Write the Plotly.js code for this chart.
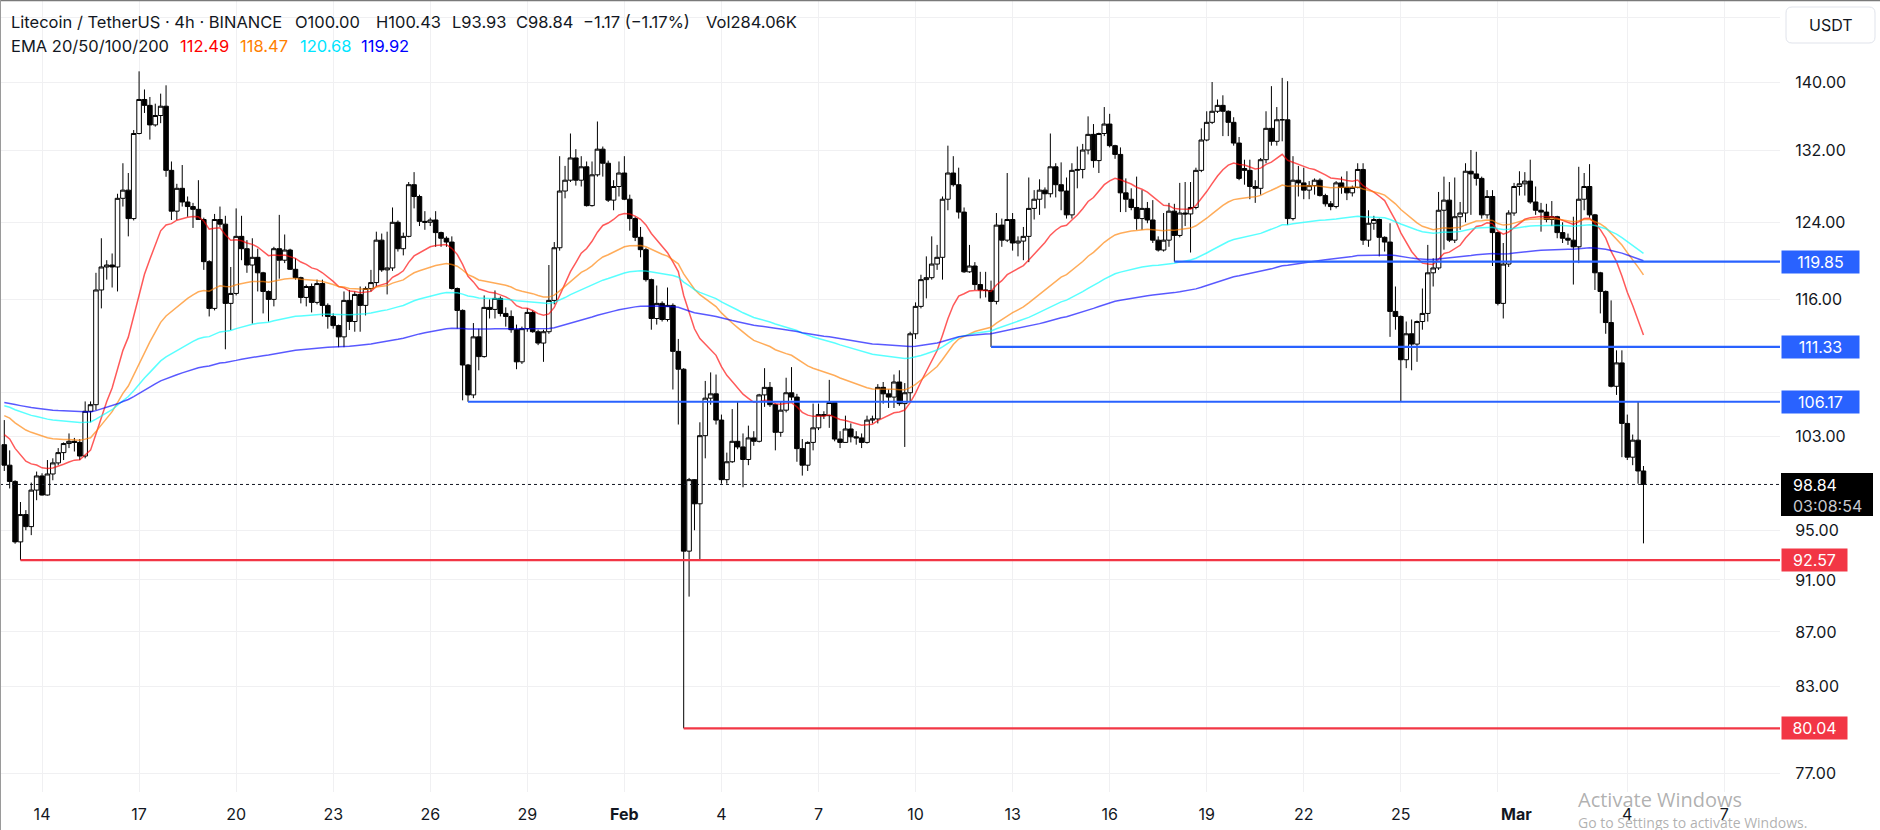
<!DOCTYPE html>
<html><head><meta charset="utf-8">
<script src="https://cdn.plot.ly/plotly-3.0.1.min.js"></script>
<style>html,body{margin:0;padding:0;background:#fff;overflow:hidden}</style>
</head><body><div id="chart" style="width:1880px;height:830px"></div>
<script>
// ---- DATA (LTC/USDT 4h, Binance) ----
const startTime = '2025-01-12T20:00:00Z';
const intervalHours = 4;
const opens = [
102.3,100.5,99.1,94.05,96.3,95.3,98.36,99.57,97.94,99.74,
100.7,101.6,102.4,102.6,102.5,101.3,105.3,105.9,116.95,119.3,
119.5,119.3,126.6,127.5,124.4,133.9,137.9,137.2,134.9,136.0,
137.1,129.7,125.2,127.7,126.2,125.7,125.4,124.3,119.85,115.1,
124.3,123.8,115.6,116.6,122.5,121.2,119.5,120.3,118.7,116.8,
116.0,121.2,120.0,121.06,119.06,118.2,116.2,117.3,115.7,117.6,
115.4,114.3,113.4,112.3,115.9,113.8,116.5,115.4,117.1,117.7,
122.1,119.0,119.2,124.0,121.2,122.5,128.1,126.8,124.1,124.0,
124.25,122.9,122.3,121.9,117.1,114.9,109.6,106.8,112.3,110.4,
115.2,115.0,116.1,114.6,114.3,113.0,109.9,113.1,114.7,112.8,
111.7,112.8,115.9,121.3,127.4,128.6,131.1,128.6,130.1,125.8,
129.2,132.1,130.5,126.4,127.9,129.4,126.5,124.4,122.4,121.1,
118.0,114.1,115.6,114.0,115.4,110.9,109.2,93.3,99.25,97.2,
103.1,106.5,106.9,104.5,99.25,100.8,102.6,102.1,101.0,102.9,
102.6,106.8,107.5,105.9,103.4,105.4,107.0,106.6,101.95,100.5,
102.5,103.8,105.0,104.9,106.1,102.8,102.5,103.7,103.0,102.9,
102.5,104.5,104.6,107.5,106.9,106.6,108.0,106.0,107.0,112.6,
115.3,118.0,118.2,119.6,120.3,126.5,129.4,128.1,125.1,118.8,
119.4,117.5,116.95,116.9,115.8,123.7,122.1,124.3,121.8,122.0,
122.5,125.5,126.5,127.5,127.1,130.1,128.1,127.4,124.8,129.7,
129.8,132.0,133.8,130.8,133.9,135.0,132.5,131.5,127.2,126.5,
125.6,124.4,125.5,124.25,122.1,121.06,122.1,125.2,122.6,125.0,
124.9,125.6,129.7,133.15,135.2,136.5,137.2,136.5,135.2,132.8,
129.9,129.7,127.9,127.7,130.9,134.5,133.0,135.5,135.5,124.4,
128.6,128.3,127.5,128.0,128.6,126.9,126.0,125.7,128.3,127.8,
127.2,127.8,129.8,122.1,123.9,124.3,122.4,121.9,114.8,114.3,
110.1,112.6,111.6,113.8,114.6,118.7,119.2,125.3,126.4,122.1,
124.6,125.0,129.6,129.3,128.8,124.8,126.8,122.9,115.6,119.6,
125.0,127.9,128.2,128.5,126.2,125.3,125.1,124.3,124.6,122.9,
122.3,122.1,121.4,126.5,127.9,124.8,118.7,116.8,113.7,107.6,
109.8,104.2,101.2,102.7,100.0];
const highs = [
104.5,101.8,99.2,97.35,96.67,99.0,99.95,99.8,100.95,101.1,
102.0,102.5,103.3,102.9,102.8,106.2,106.2,118.7,122.3,120.0,
120.7,127.1,130.5,129.4,134.3,141.3,139.1,138.2,137.4,138.6,
139.6,130.7,128.2,130.3,126.8,126.1,128.6,124.5,120.0,124.9,
125.7,124.7,119.3,125.5,124.7,122.1,122.3,121.2,118.8,116.9,
121.4,124.8,122.7,121.2,120.2,118.3,117.5,117.6,118.0,118.0,
115.6,114.6,113.5,116.8,116.95,116.8,117.3,117.3,119.0,123.0,
122.8,123.0,125.6,124.2,122.9,128.4,129.5,127.0,125.2,124.5,
125.2,123.0,122.5,122.5,117.2,115.0,109.7,113.65,113.1,116.4,
116.0,116.9,116.3,115.2,114.9,113.5,113.3,115.1,114.9,113.0,
113.0,119.5,121.9,131.3,130.2,133.9,132.1,131.3,130.7,130.7,
135.3,132.4,130.8,128.6,130.7,131.3,127.0,124.6,123.5,121.3,
118.1,117.4,115.8,117.2,115.6,112.1,109.3,99.4,99.3,104.3,
108.1,108.9,108.7,105.0,101.6,105.5,106.2,103.3,104.0,103.5,
106.9,109.3,108.0,106.0,106.2,108.4,109.4,106.9,102.8,102.6,
106.0,106.0,105.3,108.2,106.2,103.5,104.9,104.2,103.5,103.3,
104.9,104.9,107.8,108.0,107.3,108.7,109.1,107.9,112.8,115.7,
118.5,120.4,122.5,121.6,126.8,132.5,131.3,130.0,125.6,121.6,
119.8,118.8,118.8,117.9,125.0,124.4,129.4,125.0,122.5,123.5,
128.9,127.5,128.7,127.8,133.9,130.5,130.6,128.9,130.5,132.4,
132.7,135.9,135.0,134.0,137.0,136.2,132.6,132.3,128.8,127.7,
129.0,127.5,126.2,126.4,122.5,125.0,126.1,126.0,128.3,128.4,
128.4,130.0,134.5,136.5,140.0,137.9,138.4,136.6,135.8,133.5,
130.9,130.9,128.6,131.1,136.5,139.5,137.0,140.5,140.1,131.3,
130.2,130.0,128.5,128.8,128.8,127.1,126.3,128.5,129.0,129.6,
128.0,130.5,130.5,125.3,124.7,124.4,122.5,123.9,117.3,114.4,
113.8,114.0,113.9,117.1,121.6,120.2,127.3,129.0,128.4,128.9,
126.2,130.5,132.0,131.8,129.0,127.5,127.5,123.0,121.8,125.3,
128.3,129.6,129.5,130.9,127.9,126.1,126.0,126.3,124.7,124.0,
122.8,124.6,130.1,129.4,130.4,124.9,118.8,116.9,115.9,111.0,
111.0,105.0,103.2,106.2,100.43];
const lows = [
100.0,98.5,93.9,92.57,95.0,94.6,97.5,97.9,97.9,99.2,
100.5,100.95,102.0,101.7,100.95,101.1,104.3,105.4,115.1,118.0,
117.2,116.8,125.7,122.5,124.2,133.8,136.3,133.2,134.7,135.1,
128.98,124.25,124.25,125.7,124.6,123.4,124.25,119.0,114.3,114.9,
123.5,111.1,112.97,116.4,120.0,118.7,113.6,116.8,114.6,113.8,
115.3,118.1,119.7,118.99,118.0,115.6,115.3,114.7,115.5,114.3,
113.1,113.1,111.3,111.3,112.97,112.8,112.8,114.4,116.8,117.3,
118.8,116.5,118.9,120.9,120.5,122.4,125.5,123.6,123.2,123.6,
121.4,121.4,121.4,117.0,113.1,106.3,106.17,106.5,109.1,110.3,
114.1,114.1,114.3,113.3,112.7,109.2,109.7,112.8,112.7,111.5,
109.9,112.6,115.5,121.0,126.6,128.4,128.0,127.9,125.7,125.7,
129.0,129.0,126.2,125.3,126.8,126.4,123.1,122.0,120.3,117.8,
113.0,113.5,113.8,113.8,107.3,104.1,80.04,89.7,95.0,92.6,
101.1,105.9,104.1,98.9,98.9,100.7,101.9,98.6,100.5,102.2,
102.5,105.7,105.7,101.8,103.0,105.2,106.3,100.8,99.6,100.0,
101.8,103.6,104.6,103.8,102.6,102.0,102.5,102.5,102.3,102.0,
102.4,104.2,104.2,106.0,105.6,105.6,105.8,102.1,106.2,112.1,
115.1,116.1,118.0,119.0,118.0,125.3,127.9,124.4,118.7,118.7,
116.95,116.1,116.2,111.33,115.5,121.4,121.9,121.0,120.4,120.0,
119.8,124.3,124.8,125.5,126.7,126.7,125.3,124.4,124.4,127.7,
128.8,131.5,130.0,129.4,133.6,132.3,131.0,125.1,125.1,125.3,
123.2,123.2,123.9,121.8,120.9,120.9,121.4,119.85,122.4,123.6,
120.8,125.4,129.5,133.0,135.0,136.3,133.6,133.6,132.5,128.6,
128.1,126.5,126.1,127.0,130.5,132.5,132.5,133.0,123.7,124.2,
126.8,126.5,126.5,127.0,126.8,125.7,125.3,125.5,127.1,126.4,
126.8,127.7,121.6,121.4,123.2,120.4,120.9,112.3,113.0,106.17,
109.3,109.1,109.9,113.0,113.8,117.3,119.0,121.1,121.9,121.8,
123.2,124.0,124.8,128.0,124.4,124.4,119.4,115.4,114.1,119.3,
124.7,126.9,126.9,126.0,124.8,123.0,124.0,123.6,122.3,121.8,
121.6,117.5,119.7,125.3,124.5,116.95,114.6,112.6,107.5,106.8,
101.2,100.95,100.5,98.9,93.93];
const closes = [
100.5,99.1,94.05,96.3,95.3,98.36,99.57,97.94,99.74,100.7,
101.6,102.4,102.6,102.5,101.3,105.3,105.9,116.95,119.3,119.5,
119.3,126.6,127.5,124.4,133.9,137.9,137.2,134.9,136.0,137.1,
129.7,125.2,127.7,126.2,125.7,125.4,124.3,119.85,115.1,124.3,
123.8,115.6,116.6,122.5,121.2,119.5,120.3,118.7,116.8,116.0,
121.2,120.0,121.06,119.06,118.2,116.2,117.3,115.7,117.6,115.4,
114.3,113.4,112.3,115.9,113.8,116.5,115.4,117.1,117.7,122.1,
119.0,119.2,124.0,121.2,122.5,128.1,126.8,124.1,124.0,124.25,
122.9,122.3,121.9,117.1,114.9,109.6,106.8,112.3,110.4,115.2,
115.0,116.1,114.6,114.3,113.0,109.9,113.1,114.7,112.8,111.7,
112.8,115.9,121.3,127.4,128.6,131.1,128.6,130.1,125.8,129.2,
132.1,130.5,126.4,127.9,129.4,126.5,124.4,122.4,121.1,118.0,
114.1,115.6,114.0,115.4,110.9,109.2,93.3,99.25,97.2,103.1,
106.5,106.9,104.5,99.25,100.8,102.6,102.1,101.0,102.9,102.6,
106.8,107.5,105.9,103.4,105.4,107.0,106.6,101.95,100.5,102.5,
103.8,105.0,104.9,106.1,102.8,102.5,103.7,103.0,102.9,102.5,
104.5,104.6,107.5,106.9,106.6,108.0,106.0,107.0,112.6,115.3,
118.0,118.2,119.6,120.3,126.5,129.4,128.1,125.1,118.8,119.4,
117.5,116.95,116.9,115.8,123.7,122.1,124.3,121.8,122.0,122.5,
125.5,126.5,127.5,127.1,130.1,128.1,127.4,124.8,129.7,129.8,
132.0,133.8,130.8,133.9,135.0,132.5,131.5,127.2,126.5,125.6,
124.4,125.5,124.25,122.1,121.06,122.1,125.2,122.6,125.0,124.9,
125.6,129.7,133.15,135.2,136.5,137.2,136.5,135.2,132.8,128.8,
129.7,127.9,127.7,130.9,134.5,133.0,135.5,135.5,124.4,128.6,
128.3,127.5,128.0,128.6,126.9,126.0,125.7,128.3,127.8,127.2,
127.8,129.8,122.1,123.9,124.3,122.4,121.9,114.8,114.3,110.1,
112.6,111.6,113.8,114.6,118.7,119.2,125.3,126.4,122.1,124.6,
125.0,129.6,129.3,128.8,124.8,126.8,122.9,115.6,119.6,125.0,
127.9,128.2,128.5,126.2,125.3,125.1,124.3,124.6,122.9,122.3,
122.1,121.4,126.5,127.9,124.8,118.7,116.8,113.7,107.6,109.8,
104.2,101.2,102.7,100.0,98.84];

// EMA settings (values at first visible candle)
const emaPeriods = [20, 50, 100, 200];
const emaStart = [103.2, 104.9, 105.8, 106.1];
const emaLegendValues = ['112.49', '118.47', '120.68', '119.92'];

// horizontal levels: value and the candle index where each starts
const supportValues = [119.85, 111.33, 106.17];
const supportStartIdx = [217, 183, 86];
const lowValues = [92.57, 80.04];
const lowStartIdx = [3, 126];
const lastPrice = 98.84;
const countdown = '03:08:54';

// axes
const priceTicks = [148, 140, 132, 124, 116, 107, 103, 95, 91, 87, 83, 77];
const priceTickText = ['', '140.00', '132.00', '124.00', '116.00', '', '103.00', '95.00', '91.00', '87.00', '83.00', '77.00'];
const dateTicks = ['2025-01-14','2025-01-17','2025-01-20','2025-01-23','2025-01-26','2025-01-29','2025-02-01','2025-02-04','2025-02-07','2025-02-10','2025-02-13','2025-02-16','2025-02-19','2025-02-22','2025-02-25','2025-02-28','2025-03-04','2025-03-07'];
const dateTickText = ['14','17','20','23','26','29','<b>Feb</b>','4','7','10','13','16','19','22','25','','4','7'];
const monthLabelDate = '2025-03-01';
const monthLabel = 'Mar';

// ---- BUILD ----
const N = closes.length;
if (opens.length !== N || highs.length !== N || lows.length !== N) {
  throw new Error('length mismatch ' + [opens.length, highs.length, lows.length, N].join(','));
}
const t0 = Date.parse(startTime);
function fmt(ms){ return new Date(ms).toISOString().slice(0,16).replace('T',' '); }
const dates = [];
for (let i = 0; i < N; i++) dates.push(fmt(t0 + i * intervalHours * 3600e3));

const xRange = ['2025-01-12 16:49', '2025-03-08 17:17'];
const yRange = [1.87939, 2.17694];
const PW = 1780, PH = 792;
const px = v => v / PW;
const py = v => 1 - v / PH;

function ema(src, period, seed) {
  const k = 2 / (period + 1); const out = []; let e = seed;
  for (let i = 0; i < src.length; i++) { if (i > 0) e = e + k * (src[i] - e); out.push(e); }
  return out;
}

const FONT = 'Inter, Roboto, sans-serif';
const TXT = '#131722';
const emaColors = ['rgba(255,0,0,0.65)','rgba(255,128,0,0.65)','rgba(0,255,255,0.65)','rgba(0,0,255,0.65)'];
const emaTextColors = ['#ff0000','#ff8000','#00e5ff','#0000ff'];
const BLUE = '#2962ff', RED = '#f23645';

const traces = [];
traces.push({
  type: 'candlestick', x: dates, open: opens, high: highs, low: lows, close: closes,
  increasing: { line: { color: '#000', width: 1 }, fillcolor: '#ffffff' },
  decreasing: { line: { color: '#000', width: 1 }, fillcolor: '#000000' },
  whiskerwidth: 0, hoverinfo: 'skip', showlegend: false
});
emaPeriods.forEach((p, j) => {
  traces.push({ type: 'scatter', mode: 'lines', x: dates, y: ema(closes, p, emaStart[j]),
    line: { color: emaColors[j], width: 1.5 }, hoverinfo: 'skip', showlegend: false });
});
supportValues.forEach((v, j) => {
  traces.push({ type: 'scatter', mode: 'lines', x: [dates[supportStartIdx[j]], xRange[1]], y: [v, v],
    line: { color: BLUE, width: 2.2 }, hoverinfo: 'skip', showlegend: false });
});
lowValues.forEach((v, j) => {
  traces.push({ type: 'scatter', mode: 'lines', x: [dates[lowStartIdx[j]], xRange[1]], y: [v, v],
    line: { color: RED, width: 2.2 }, hoverinfo: 'skip', showlegend: false });
});
traces.push({ type: 'scatter', mode: 'lines', x: xRange, y: [lastPrice, lastPrice],
  line: { color: '#131722', width: 1, dash: 'dot' }, hoverinfo: 'skip', showlegend: false });

const ann = [];
function txt(text, x, y, size, color, extra) {
  ann.push(Object.assign({ xref: 'paper', yref: 'paper', x: px(x), y: py(y), xanchor: 'left', yanchor: 'middle',
    text, showarrow: false, font: { family: FONT, size, color }, borderpad: 0 }, extra || {}));
}
// header line 1
txt('Litecoin / TetherUS · 4h · BINANCE', 10, 22, 16.5, TXT);
txt('O100.00', 294, 22, 16.5, TXT);
txt('H100.43', 375, 22, 16.5, TXT);
txt('L93.93', 451, 22, 16.5, TXT);
txt('C98.84', 515, 22, 16.5, TXT);
txt('\u22121.17 (\u22121.17%)', 582, 22, 16.5, TXT);
txt('Vol284.06K', 705, 22, 16.5, TXT);
// header line 2
txt('EMA 20/50/100/200', 10, 46, 16.5, TXT);
const emaX = [179, 239, 299, 360];
emaLegendValues.forEach((s, j) => txt(s, emaX[j], 46, 16.5, emaTextColors[j]));

// level label boxes on price scale
function levelLabel(v, bg, w) {
  ann.push({ xref: 'paper', yref: 'y', x: 1, xshift: 1, y: Math.log10(v), xanchor: 'left', yanchor: 'middle',
    text: v.toFixed(2), showarrow: false, font: { family: FONT, size: 16, color: '#fff' },
    bgcolor: bg, width: w, height: 22, borderpad: 0, align: 'center' });
}
supportValues.forEach(v => levelLabel(v, BLUE, 77));
lowValues.forEach(v => levelLabel(v, RED, 65));

// current price box
const shapes = [];
shapes.push({ type: 'rect', xref: 'paper', yref: 'paper', x0: px(1781), x1: px(1873), y0: py(516), y1: py(473),
  fillcolor: '#000', line: { width: 0 }, layer: 'above' });
txt(lastPrice.toFixed(2), 1792, 485, 16, '#ffffff');
txt(countdown, 1792, 506, 16, '#c8cad0');

// USDT button (rounded rect)
(function(){
  const x0 = 1786, x1 = 1875, y0 = 7, y1 = 43, r = 6;
  const X = px, Y = py;
  const p = `M ${X(x0+r)} ${Y(y0)} L ${X(x1-r)} ${Y(y0)} Q ${X(x1)} ${Y(y0)} ${X(x1)} ${Y(y0+r)} L ${X(x1)} ${Y(y1-r)} Q ${X(x1)} ${Y(y1)} ${X(x1-r)} ${Y(y1)} L ${X(x0+r)} ${Y(y1)} Q ${X(x0)} ${Y(y1)} ${X(x0)} ${Y(y1-r)} L ${X(x0)} ${Y(y0+r)} Q ${X(x0)} ${Y(y0)} ${X(x0+r)} ${Y(y0)} Z`;
  shapes.push({ type: 'path', xref: 'paper', yref: 'paper', path: p, line: { color: '#e0e3eb', width: 1 }, fillcolor: '#fff', layer: 'above' });
})();
ann.push({ xref: 'paper', yref: 'paper', x: px(1830.5), y: py(25), xanchor: 'center', yanchor: 'middle',
  text: 'USDT', showarrow: false, font: { family: FONT, size: 16, color: TXT } });

// month label
ann.push({ xref: 'x', yref: 'paper', x: monthLabelDate, y: py(814), xanchor: 'center', yanchor: 'middle', xshift: -14,
  text: '<b>' + monthLabel + '</b>', showarrow: false, font: { family: FONT, size: 16, color: TXT } });

// OS watermark
txt('Activate Windows', 1577, 799, 20, 'rgba(110,110,110,0.55)', { font: { family: 'Open Sans, sans-serif', size: 20, color: 'rgba(110,110,110,0.55)' } });
txt('Go to Settings to activate Windows.', 1577, 822, 14, 'rgba(110,110,110,0.55)', { font: { family: 'Open Sans, sans-serif', size: 14, color: 'rgba(110,110,110,0.55)' } });

// screenshot frame edges
shapes.push({ type: 'line', xref: 'paper', yref: 'paper', x0: 0, x1: px(1880), y0: py(0.5), y1: py(0.5), line: { color: '#7a7a7a', width: 1.5 }, layer: 'above' });
shapes.push({ type: 'line', xref: 'paper', yref: 'paper', x0: px(0.5), x1: px(0.5), y0: py(0), y1: py(830), line: { color: '#9a9a9a', width: 1 }, layer: 'above' });

const layout = {
  width: 1880, height: 830,
  margin: { l: 0, r: 100, t: 0, b: 38, pad: 0 },
  paper_bgcolor: '#ffffff', plot_bgcolor: '#ffffff',
  showlegend: false, hovermode: false, dragmode: false,
  boxgap: 0.08, boxgroupgap: 0.08,
  xaxis: {
    type: 'date', range: xRange, tickmode: 'array', tickvals: dateTicks, ticktext: dateTickText,
    showgrid: true, gridcolor: '#f0f0f2', gridwidth: 1, zeroline: false, showline: false,
    ticks: 'outside', ticklen: 8, tickcolor: 'rgba(0,0,0,0)',
    tickfont: { family: FONT, size: 16, color: TXT },
    rangeslider: { visible: false }, fixedrange: true
  },
  yaxis: {
    type: 'log', range: yRange, side: 'right', tickmode: 'array', tickvals: priceTicks, ticktext: priceTickText,
    showgrid: true, gridcolor: '#f0f0f2', gridwidth: 1, zeroline: false, showline: false,
    ticks: 'outside', ticklen: 11, tickcolor: 'rgba(0,0,0,0)',
    tickfont: { family: FONT, size: 16, color: TXT }, fixedrange: true
  },
  annotations: ann,
  shapes: shapes
};

Plotly.newPlot('chart', traces, layout, { displayModeBar: false, staticPlot: true });
</script>
</body></html>
